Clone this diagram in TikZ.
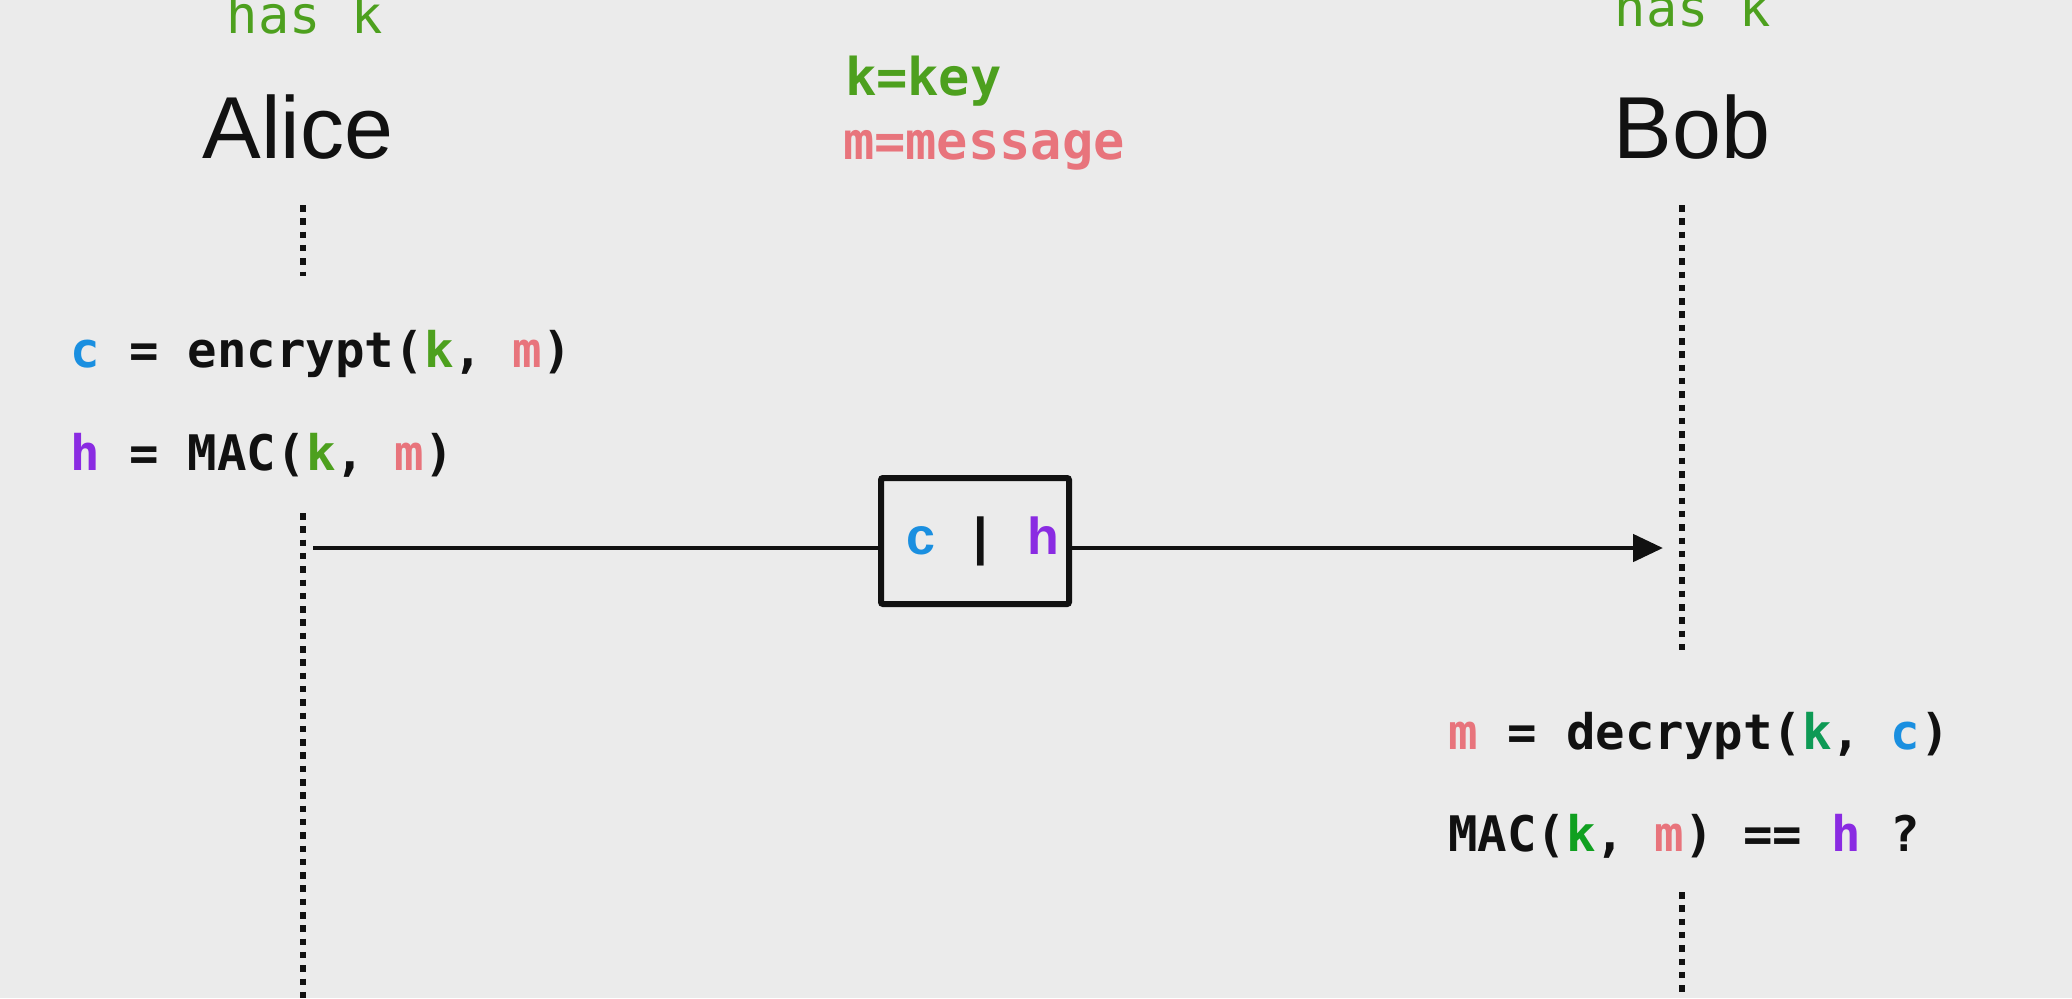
\documentclass[tikz,border=0pt]{standalone}
\usepackage{fontspec}
\setmainfont{Liberation Sans}
\newfontfamily\mono{DejaVu Sans Mono}
\usetikzlibrary{arrows.meta}
\definecolor{bg}{HTML}{EBEBEB}
\definecolor{ink}{HTML}{111111}
\definecolor{gk}{HTML}{4DA01E}
\definecolor{gk2}{HTML}{0E9A55}
\definecolor{gk3}{HTML}{10A020}
\definecolor{pk}{HTML}{E8747C}
\definecolor{cb}{HTML}{1A8FE0}
\definecolor{hp}{HTML}{8A2BE2}
\tikzset{
  txt/.style={inner sep=0pt, outer sep=0pt, anchor=base west, text=ink},
  actor/.style={inner sep=0pt, anchor=base, text=ink, font=\fontsize{44}{50}\selectfont},
  haslbl/.style={inner sep=0pt, anchor=base, text=gk, font=\mono\fontsize{26}{30}\selectfont},
  legend/.style={txt, font=\mono\bfseries\fontsize{26}{30}\selectfont},
  code/.style={txt, font=\mono\bfseries\fontsize{24.5}{30}\selectfont},
  lifeline/.style={draw=ink, line width=3.25pt, dash pattern=on 3.25pt off 3.4pt},
  msg/.style={draw=ink, line width=2.4pt, -{Triangle[length=15pt,width=13.5pt]}},
  msgbox/.style={draw=ink, line width=3pt, fill=bg, minimum width=94pt, minimum height=63pt, inner sep=0pt, rounded corners=1pt, font=\bfseries\fontsize{26}{30}\selectfont}
}
\begin{document}
\frenchspacing
\begin{tikzpicture}[x=0.5pt,y=-0.5pt]
\useasboundingbox (0,0) rectangle (2072,998);
\fill[bg] (0,0) rectangle (2072,998);

% labels
\node[haslbl] (hasA) at (305,33) {has k};
\node[haslbl] (hasB) at (1693,26) {has k};
\node[actor] (alice) at (298,158) {Alice};
\node[actor] (bob) at (1692,158) {Bob};
\node[legend, text=gk] (lk) at (845,95) {k=key};
\node[legend, text=pk] (lm) at (843,159) {m=message};

% lifelines
\coordinate (a0) at (303,205);
\coordinate (a1) at (303,276);
\coordinate (a2) at (303,513);
\coordinate (a3) at (303,998);
\coordinate (b0) at (1682,205);
\coordinate (b1) at (1682,657);
\coordinate (b2) at (1682,892);
\coordinate (b3) at (1682,998);
\draw[lifeline] (a0) -- (a1);
\draw[lifeline] (a2) -- (a3);
\draw[lifeline] (b0) -- (b1);
\draw[lifeline] (b2) -- (b3);

% code
\node[code] (enc) at (70,367) {\textcolor{cb}{c} = encrypt(\textcolor{gk}{k}, \textcolor{pk}{m})};
\node[code] (mac) at (70,470) {\textcolor{hp}{h} = MAC(\textcolor{gk}{k}, \textcolor{pk}{m})};
\node[code] (dec) at (1448,749) {\textcolor{pk}{m} = decrypt(\textcolor{gk2}{k}, \textcolor{cb}{c})};
\node[code] (chk) at (1448,851) {MAC(\textcolor{gk3}{k}, \textcolor{pk}{m}) == \textcolor{hp}{h} ?};

% message
\coordinate (ms) at (313,548);
\coordinate (me) at (1663,548);
\draw[msg] (ms) -- (me);
\node[msgbox] (box) at (975,541) {\hspace{8pt}\textcolor{cb}{c}\hspace{19pt}\textcolor{ink}{|}\hspace{20pt}\textcolor{hp}{h}};
\end{tikzpicture}
\end{document}
